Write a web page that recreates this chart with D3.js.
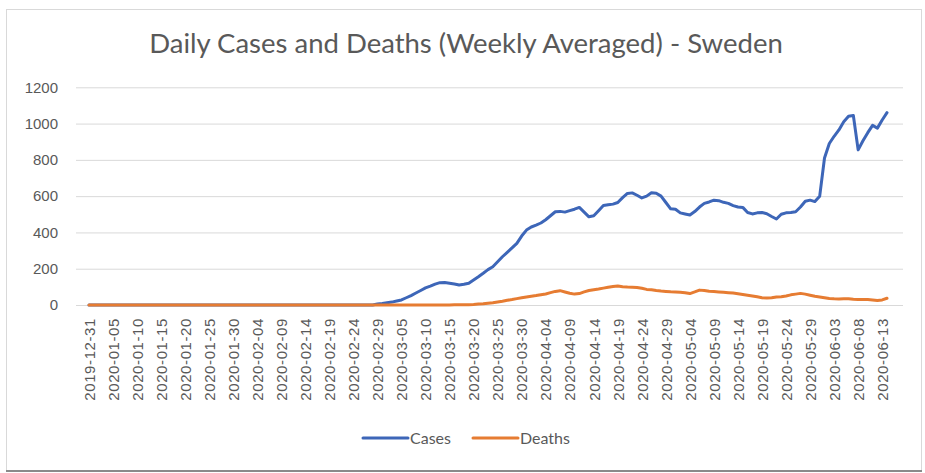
<!DOCTYPE html>
<html lang="en">
  <head>
    <meta charset="utf-8">
    <title>Daily Cases and Deaths (Weekly Averaged) - Sweden</title>
    <style>
      body { margin: 0; background: #fff; }
      svg { display: block; font-family: Lato, "Open Sans", sans-serif; }
      .grid line { stroke: #d9d9d9; stroke-width: 1; }
      .grid .domain { display: none; }
      .tick text { fill: #595959; }
    </style>
  </head>
  <body>
    <svg width="925" height="473"></svg>

    <script src="https://d3js.org/d3.v7.min.js"></script>
    <script>

    // daily values from 2019-12-31, one per day
    var startDate = "2019-12-31";

    var cases = [
      0,0,0,0,0,0,0,0,0,0, 0,0,0,0,0,0,0,0,0,0,
      0,0,0,0,0,0,0,0,0,0, 0,0,0,0,0,0,0,0,0,0,
      0,0,0,0,0,0,0,0,0,0, 0,0,0,0,0,0,0,0,0,0,
      5,8,12,16,22,28,40,52,66,80,
      94,104,115,123,124,120,116,110,114,120,
      138,156,175,195,211,238,266,290,315,340,
      380,413,430,440,452,470,492,514,516,512,
      520,528,538,512,486,492,520,548,552,556,
      565,592,615,618,605,590,600,619,616,600,
      565,530,528,508,502,496,515,540,560,568,
      578,575,566,560,548,540,538,510,502,508,
      510,503,488,474,500,508,510,514,540,572,
      578,570,600,810,890,930,965,1010,1040,1045,
      855,905,950,990,975,1020,1060
    ];

    var deaths = [
      0,0,0,0,0,0,0,0,0,0, 0,0,0,0,0,0,0,0,0,0,
      0,0,0,0,0,0,0,0,0,0, 0,0,0,0,0,0,0,0,0,0,
      0,0,0,0,0,0,0,0,0,0, 0,0,0,0,0,0,0,0,0,0,
      0,0,0,0,0,0,0,0,0,0, 0,0,0,0,0,0,
      1,1,2,2,
      3,5,7,10,13,17,21,26,30,35,
      40,44,48,52,57,61,68,75,79,72,
      65,60,63,72,80,84,88,93,98,102,
      105,101,99,98,97,92,86,84,80,77,
      75,73,72,70,68,63,72,82,80,76,
      74,72,70,68,66,62,58,54,50,45,
      40,38,40,44,46,50,56,60,64,60,
      54,48,44,40,36,34,33,34,35,32,
      30,31,30,28,25,28,37
    ];

    var tickLabels = [
      "2019-12-31","2020-01-05","2020-01-10","2020-01-15","2020-01-20","2020-01-25",
      "2020-01-30","2020-02-04","2020-02-09","2020-02-14","2020-02-19","2020-02-24",
      "2020-02-29","2020-03-05","2020-03-10","2020-03-15","2020-03-20","2020-03-25",
      "2020-03-30","2020-04-04","2020-04-09","2020-04-14","2020-04-19","2020-04-24",
      "2020-04-29","2020-05-04","2020-05-09","2020-05-14","2020-05-19","2020-05-24",
      "2020-05-29","2020-06-03","2020-06-08","2020-06-13"
    ];

    var yTicks = [0, 200, 400, 600, 800, 1000, 1200];

    var series = [
      {name: "Cases", values: cases, color: "#3d66b8"},
      {name: "Deaths", values: deaths, color: "#e67c32"}
    ];

    var fmt = d3.timeFormat("%Y-%m-%d"),
        t0 = d3.timeParse("%Y-%m-%d")(startDate);
    var dates = d3.timeDay.range(t0, d3.timeDay.offset(t0, cases.length)).map(fmt);

    var svg = d3.select("svg");

    // chart frame
    svg.append("rect")
        .attr("width", 925).attr("height", 473).attr("fill", "#fff");
    svg.append("rect")
        .attr("x", 6.5).attr("y", 9.5)
        .attr("width", 915).attr("height", 461)
        .attr("fill", "none").attr("stroke", "#d9d9d9");
    svg.append("line")
        .attr("x1", 6).attr("x2", 922).attr("y1", 471).attr("y2", 471)
        .attr("stroke", "#8a8a8a").attr("stroke-width", 2);

    var plotLeft = 76, plotRight = 903;

    var x = d3.scalePoint()
        .domain(dates)
        .range([89, 887]);

    var y = d3.scaleLinear()
        .domain([0, 1200])
        .range([305, 87.3]);

    // gridlines + y labels
    svg.append("g")
        .attr("class", "grid")
        .attr("transform", "translate(" + plotLeft + ",0)")
        .call(d3.axisLeft(y).tickValues(yTicks).tickFormat(d3.format("d"))
          .tickSize(-(plotRight - plotLeft)).tickPadding(18))
        .selectAll("text")
          .style("font-size", "15px");

    // x labels
    svg.append("g")
        .attr("transform", "translate(0," + y(0) + ")")
        .call(d3.axisBottom(x).tickValues(tickLabels).tickSize(0))
        .call(function(g) { g.select(".domain").remove(); })
        .selectAll("text")
          .attr("transform", "rotate(-90)")
          .attr("x", -13)
          .attr("y", 0)
          .attr("dy", "0.35em")
          .style("text-anchor", "end")
          .style("font-size", "15px")
          .style("letter-spacing", "0.6px");

    var line = d3.line()
        .x(function(d, i) { return x(dates[i]); })
        .y(function(d) { return y(d); });

    svg.selectAll(".series")
        .data(series)
      .enter().append("path")
        .attr("class", "series")
        .attr("fill", "none")
        .attr("stroke", function(d) { return d.color; })
        .attr("stroke-width", 3)
        .attr("stroke-linejoin", "round")
        .attr("stroke-linecap", "round")
        .attr("d", function(d) { return line(d.values); });

    // title
    svg.append("text")
        .attr("x", 466)
        .attr("y", 53)
        .attr("text-anchor", "middle")
        .attr("fill", "#595959")
        .style("font-size", "27.5px")
        .text("Daily Cases and Deaths (Weekly Averaged) - Sweden");

    // legend
    var legendX = [363, 473];
    var legend = svg.selectAll(".legend")
        .data(series)
      .enter().append("g")
        .attr("class", "legend")
        .attr("transform", function(d, i) { return "translate(" + legendX[i] + ",438)"; });

    legend.append("line")
        .attr("x1", 0).attr("x2", 45)
        .attr("stroke", function(d) { return d.color; })
        .attr("stroke-width", 3)
        .attr("stroke-linecap", "round");

    legend.append("text")
        .attr("x", 47)
        .attr("dy", "0.35em")
        .attr("fill", "#595959")
        .style("font-size", "16px")
        .text(function(d) { return d.name; });

    </script>
  </body>
</html>
